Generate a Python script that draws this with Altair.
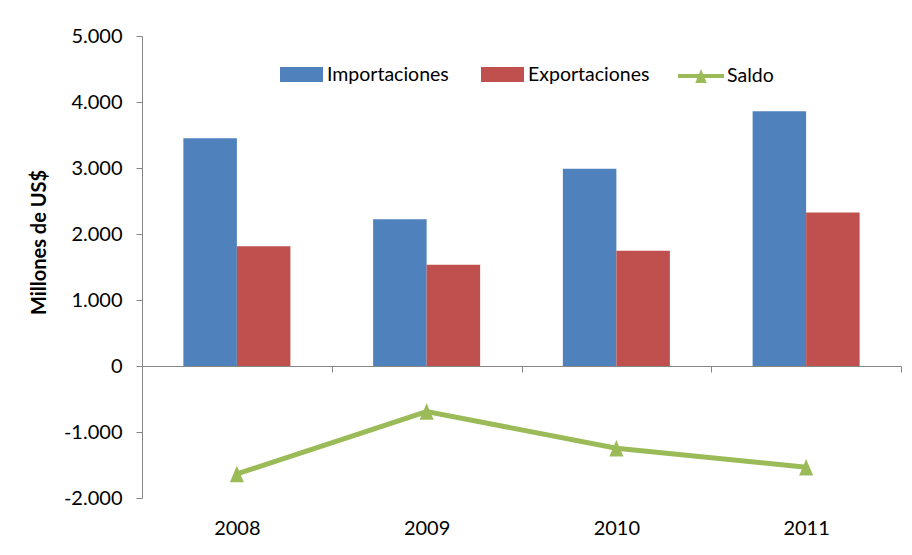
import altair as alt
import pandas as pd

# ---- data ----
years = ["2008", "2009", "2010", "2011"]
importaciones = [3450, 2225, 2990, 3860]
exportaciones = [1815, 1535, 1745, 2325]
saldo = [-1635, -690, -1245, -1535]
bar_series = ["Importaciones", "Exportaciones"]
line_series = ["Saldo"]
y_ticks = [-2000, -1000, 0, 1000, 2000, 3000, 4000, 5000]

bar_colors = ["#4F81BD", "#C0504D"]
saldo_color = "#9BBB59"
axis_color = "#868686"
FONT = "Lato"

bars_df = pd.DataFrame({
    "Año": years * 2,
    "Serie": [bar_series[0]] * len(years) + [bar_series[1]] * len(years),
    "Valor": importaciones + exportaciones,
})
line_df = pd.DataFrame({
    "Año": years,
    "Serie": line_series * len(years),
    "Valor": saldo,
})

label_expr = ("(datum.value < 0 ? '-' : '') + "
              "replace(format(abs(datum.value), ','), ',', '.')")

x_enc = alt.X(
    "Año:N",
    sort=years,
    scale=alt.Scale(paddingInner=0, paddingOuter=0),
    axis=alt.Axis(
        title=None, orient="bottom", offset=-132, tickBand="extent",
        tickSize=6, tickColor=axis_color, domainColor=axis_color,
        labelPadding=156, labelBaseline="middle", labelAngle=0,
        labelFont=FONT, labelFontSize=20, labelColor="black",
    ),
)
y_enc = alt.Y(
    "Valor:Q",
    scale=alt.Scale(domain=[-2000, 5000], nice=False, zero=True),
    axis=alt.Axis(
        title="Millones de US$", values=y_ticks, labelExpr=label_expr,
        grid=False, tickSize=6, tickColor=axis_color, domainColor=axis_color,
        labelPadding=14, labelFont=FONT, labelFontSize=20, labelColor="black",
        titleFont=FONT, titleFontSize=20, titleFontWeight="bold", titleColor="black",
        titleX=-103, titleY=206, titleAlign="center", titleBaseline="middle",
        titleAngle=270,
    ),
)

bars = alt.Chart(bars_df).mark_bar().encode(
    x=x_enc,
    xOffset=alt.XOffset("Serie:N", sort=bar_series,
                        scale=alt.Scale(paddingInner=0, paddingOuter=0.773)),
    y=y_enc,
    fill=alt.Fill(
        "Serie:N",
        scale=alt.Scale(domain=bar_series, range=bar_colors),
        legend=alt.Legend(
            title=None, orient="none", legendX=138, legendY=17,
            direction="horizontal", symbolType="M-1,-0.35H1V0.35H-1Z",
            symbolSize=1849, symbolStrokeWidth=0, labelFont=FONT,
            labelFontSize=19.5, labelColor="black", labelOffset=4,
            columnPadding=32, padding=0,
        ),
    ),
)

line = alt.Chart(line_df).mark_line(strokeWidth=5).encode(
    x=x_enc,
    y=y_enc,
    stroke=alt.Stroke(
        "Serie:N",
        scale=alt.Scale(domain=line_series, range=[saldo_color]),
        legend=alt.Legend(
            title=None, orient="none", legendX=536, legendY=17,
            symbolType="M-1,-0.09H1V0.09H-1Z M0,-0.3L0.25,0.3L-0.25,0.3Z",
            symbolSize=2116, symbolStrokeWidth=0, symbolFillColor=saldo_color,
            labelFont=FONT, labelFontSize=19.5, labelColor="black",
            labelOffset=3, padding=0,
        ),
    ),
)

points = alt.Chart(line_df).mark_point(
    filled=True, shape="M0,-1L0.85,1L-0.85,1Z", size=272,
    color=saldo_color, opacity=1,
).encode(x=x_enc, y=y_enc)

chart = alt.layer(bars, line, points).properties(
    width=759, height=462,
    autosize=alt.AutoSizeParams(type="none"),
    padding={"left": 134, "top": 28, "right": 3, "bottom": 45},
    background="white",
).configure_view(stroke=None)

chart.save("out.html", embed_options={"renderer": "svg", "actions": False})
